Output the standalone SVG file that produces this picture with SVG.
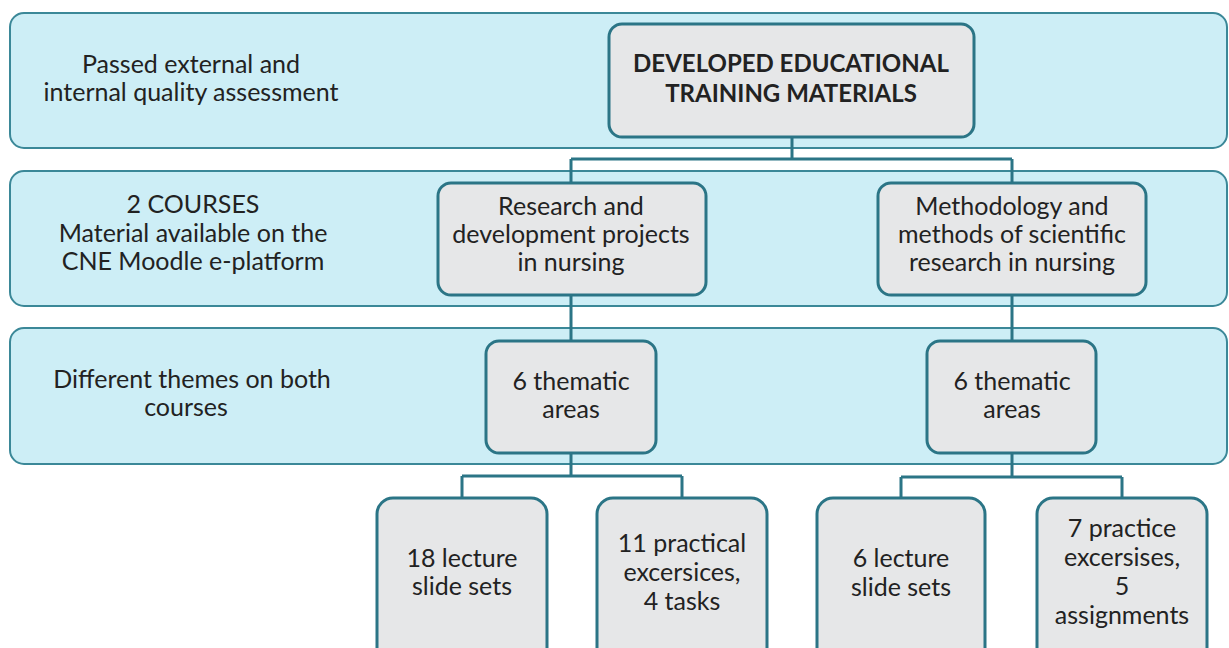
<svg xmlns="http://www.w3.org/2000/svg" width="1229" height="648" viewBox="0 0 1229 648">
<style>
.band{fill:#cdeef6;stroke:#3b8898;stroke-width:2}
.node{fill:#e6e7e8;stroke:#2b7586;stroke-width:3}
.conn{fill:none;stroke:#2b7586;stroke-width:3}
text{font-family:Lato,"Open Sans","Liberation Sans",sans-serif;font-size:25px;fill:#222;text-anchor:middle}
.b{font-weight:bold;font-size:24px}
</style>
<rect width="1229" height="648" fill="#ffffff"/>
<g id="bands">
<rect class="band" x="10" y="13" width="1217" height="135" rx="14"/>
<rect class="band" x="10" y="171" width="1217" height="135" rx="14"/>
<rect class="band" x="10" y="328" width="1217" height="136" rx="14"/>
</g>
<g id="band-labels">
<text x="191" y="73">Passed external and</text>
<text x="191" y="101">internal quality assessment</text>
<text x="193" y="213">2 COURSES</text>
<text x="193" y="242">Material available on the</text>
<text x="193" y="270">CNE Moodle e-platform</text>
<text x="192" y="388">Different themes on both</text>
<text x="186" y="416">courses</text>
</g>
<g id="connectors">
<path class="conn" d="M792 137V159M571 159H1012M571 159V183M1012 159V183"/>
<path class="conn" d="M571 295V341M1012 295V341"/>
<path class="conn" d="M571 453V476M462 476H682M462 476V498M682 476V498"/>
<path class="conn" d="M1012 453V477M901 477H1122M901 477V498M1122 477V498"/>
</g>
<g id="top">
<rect class="node" x="609" y="24" width="365" height="113" rx="13"/>
<text class="b" x="791" y="72">DEVELOPED EDUCATIONAL</text>
<text class="b" x="791" y="102">TRAINING MATERIALS</text>
</g>
<g id="course1">
<rect class="node" x="438" y="183" width="268" height="112" rx="13"/>
<text x="571" y="215">Research and</text>
<text x="571" y="243">development projects</text>
<text x="571" y="271">in nursing</text>
</g>
<g id="course2">
<rect class="node" x="878" y="183" width="268" height="112" rx="13"/>
<text x="1012" y="215">Methodology and</text>
<text x="1012" y="243">methods of scientific</text>
<text x="1012" y="271">research in nursing</text>
</g>
<g id="themes1">
<rect class="node" x="486" y="341" width="170" height="112" rx="13"/>
<text x="571" y="390">6 thematic</text>
<text x="571" y="418">areas</text>
</g>
<g id="themes2">
<rect class="node" x="927" y="341" width="169" height="112" rx="13"/>
<text x="1012" y="390">6 thematic</text>
<text x="1012" y="418">areas</text>
</g>
<g id="lectures1">
<rect class="node" x="377" y="498" width="170" height="170" rx="16"/>
<text x="462" y="567">18 lecture</text>
<text x="462" y="595">slide sets</text>
</g>
<g id="practical1">
<rect class="node" x="597" y="498" width="170" height="170" rx="16"/>
<text x="682" y="552">11 practical</text>
<text x="682" y="581">excersices,</text>
<text x="682" y="610">4 tasks</text>
</g>
<g id="lectures2">
<rect class="node" x="817" y="498" width="168" height="170" rx="16"/>
<text x="901" y="567">6 lecture</text>
<text x="901" y="596">slide sets</text>
</g>
<g id="practice2">
<rect class="node" x="1037" y="498" width="170" height="170" rx="16"/>
<text x="1122" y="537">7 practice</text>
<text x="1122" y="566">excersises,</text>
<text x="1122" y="595">5</text>
<text x="1122" y="624">assignments</text>
</g>
</svg>
